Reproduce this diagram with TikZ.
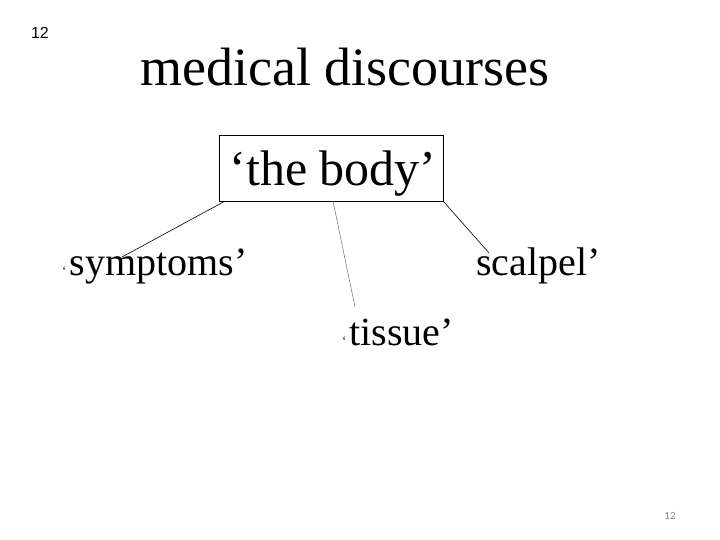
\documentclass[tikz,border=0pt]{standalone}
\usepackage{fontspec}
\setmainfont{Liberation Serif}
\newfontfamily\slidesans{Liberation Sans}
\newfontfamily\slidenum{Carlito}
\definecolor{linkgrey}{HTML}{6F8496}
\definecolor{numgrey}{HTML}{8A8A8A}
\usetikzlibrary{positioning}
\newcommand{\tinyquote}{{\fontsize{13}{15}\selectfont ‘}\kern3pt}

\begin{document}
\begin{tikzpicture}[
      x=1pt, y=-1pt,
      title/.style={anchor=base, inner sep=0pt, font=\fontsize{54}{60}\selectfont},
      bodybox/.style={draw, thin, minimum width=224pt, minimum height=66pt,
                      inner sep=0pt, text depth=0pt, font=\fontsize{50}{54}\selectfont},
      term/.style={anchor=base west, inner sep=0pt, font=\fontsize{40}{46}\selectfont},
      link/.style={line width=0.6pt, draw=black}
    ]
    \useasboundingbox (0,0) rectangle (720,540);
    \node[font=\slidesans\fontsize{16}{18}\selectfont] (slideno) at (40,33) {12};
    \node[title] (heading) at (345,86) {medical discourses};
    \node[bodybox] (body) at (331,168) {\kern4pt‘the body’};
    \node[term] (symptoms) at (62,275) {\tinyquote symptoms’};
    \node[term] (tissue) at (342,345) {\tinyquote tissue’};
    \node[term] (scalpel) at (476,275) {scalpel’};
    \node[font=\slidenum\fontsize{11}{13}\selectfont, text=numgrey] (pageno) at (670,516) {12};
    \draw[link] ([xshift=6pt]body.south west) -- ([xshift=60pt,yshift=18pt]symptoms.base west);
    \draw[link, draw=linkgrey] ([xshift=2pt]body.south) -- ([xshift=13pt,yshift=38pt]tissue.base west);
    \draw[link] (body.south east) -- ([xshift=13pt,yshift=22pt]scalpel.base west);
\end{tikzpicture}
\end{document}
